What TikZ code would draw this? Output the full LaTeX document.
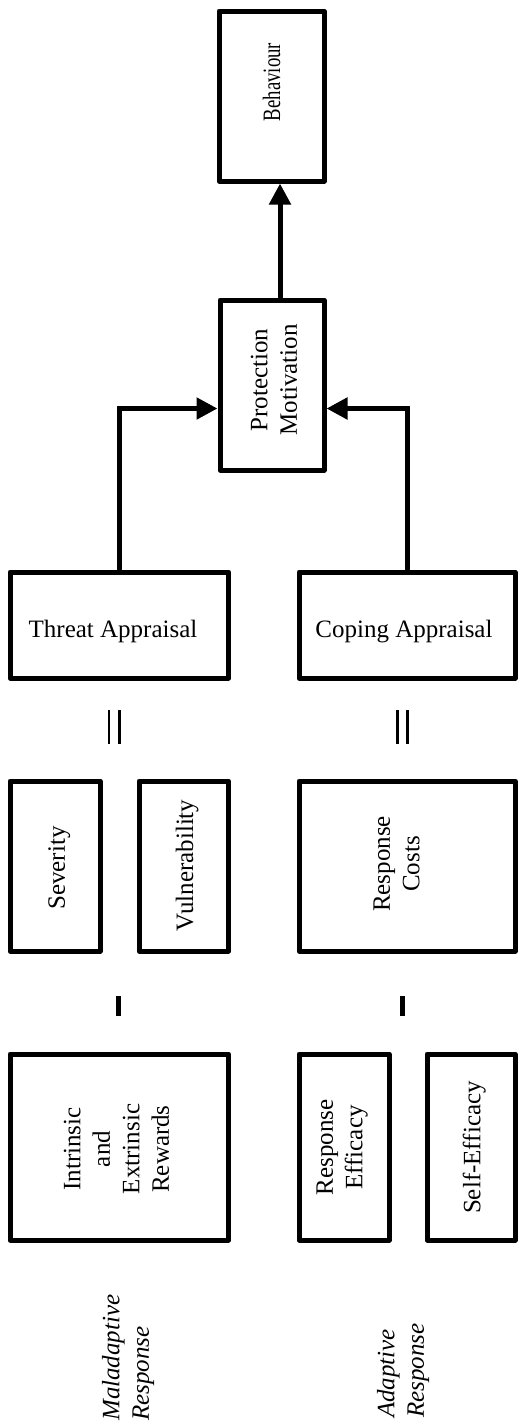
\documentclass[tikz,border=0pt]{standalone}
\usepackage{fontspec}
\setmainfont{Liberation Serif}
\usepackage{graphicx}
\usetikzlibrary{arrows.meta}
\begin{document}
\begin{tikzpicture}[x=1pt,y=-1pt,
  box/.style={draw, line width=5pt, line join=round, inner sep=0pt},
  txt/.style={inner sep=0pt, align=center, font=\fontsize{25}{29.5}\selectfont},
  rtxt/.style={txt, rotate=90},
  conn/.style={line width=5pt, -{Triangle[length=21pt,width=21pt]}},
  sign/.style={fill=black}]
\useasboundingbox (0,0) rectangle (517,1427);

% boxes
\node[box, minimum width=105pt, minimum height=170pt] (beh) at (271.5,96) {};
\node[box, minimum width=104pt, minimum height=170pt] (pm) at (272,385) {};
\node[box, minimum width=218.5pt, minimum height=106pt] (thr) at (119.25,625) {};
\node[box, minimum width=216pt, minimum height=106pt] (cop) at (407,625) {};
\node[box, minimum width=90pt, minimum height=170pt] (sev) at (55,866) {};
\node[box, minimum width=89.5pt, minimum height=170pt] (vul) at (183.75,866) {};
\node[box, minimum width=216pt, minimum height=170pt] (rc) at (407,866) {};
\node[box, minimum width=218.5pt, minimum height=186pt] (rew) at (119.25,1147) {};
\node[box, minimum width=90pt, minimum height=186pt] (re) at (344,1147) {};
\node[box, minimum width=88pt, minimum height=186pt] (se) at (471,1147) {};

% labels
\node[rtxt] (behT) at (271.5,82) {\scalebox{0.75}[1]{Behaviour}};
\node[rtxt] (pmT) at (274,380) {Protection\\Motivation};
\node[txt] (thrT) at (113,631.2) {Threat Appraisal};
\node[txt] (copT) at (404,631.2) {Coping Appraisal};
\node[rtxt] (sevT) at (59.2,868) {Severity};
\node[rtxt] (vulT) at (187.2,865.5) {Vulnerability};
\node[rtxt] (rcT) at (396.5,864) {Response\\Costs};
\node[rtxt] (rewT) at (116.5,1149) {Intrinsic\\and\\Extrinsic\\Rewards};
\node[rtxt] (reT) at (342.2,1147.5) {Response\\Efficacy};
\node[rtxt] (seT) at (474.2,1147.5) {Self-Efficacy};
\node[rtxt, align=left, anchor=west] (malT) at (128.2,1421) {\itshape Maladaptive\\\itshape Response};
\node[rtxt, align=left, anchor=west] (adT) at (403.2,1418) {\itshape Adaptive\\\itshape Response};

% connectors
\draw[conn] (thr.north) |- ([yshift=-23.5pt]pm.west);
\draw[conn] (cop.north) |- ([yshift=-23.5pt]pm.east);
\draw[conn] ([xshift=8pt]pm.north) -- ([xshift=8pt]pm.north |- beh.south);

% equals signs
\fill[sign] (107.7,710) rectangle (110.2,744);
\fill[sign] (117.7,710) rectangle (120.5,744);
\fill[sign] (396,710) rectangle (398.7,744);
\fill[sign] (406,710) rectangle (408.8,744);

% minus signs
\fill[sign] (116,996) rectangle (121,1016);
\fill[sign] (399.5,996) rectangle (404.5,1016);
\end{tikzpicture}
\end{document}
